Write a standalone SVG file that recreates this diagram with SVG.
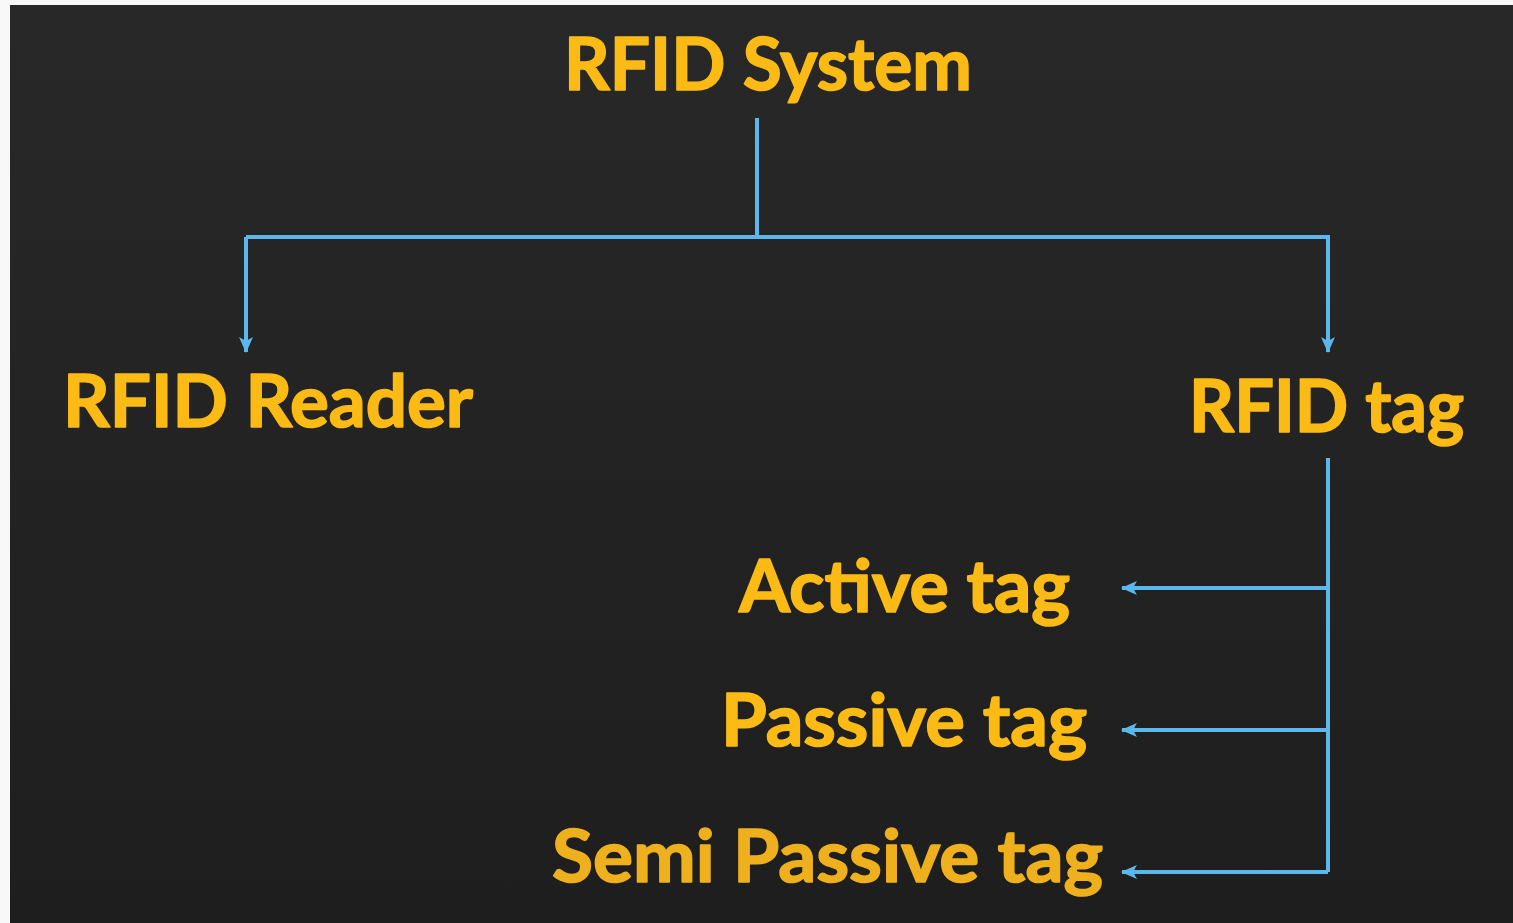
<svg xmlns="http://www.w3.org/2000/svg" width="1513" height="923" viewBox="0 0 1513 923">
<defs>
<linearGradient id="bg" x1="0" y1="0" x2="0" y2="1">
<stop offset="0" stop-color="#282828"/>
<stop offset="1" stop-color="#1e1e1e"/>
</linearGradient>
<marker id="arr" viewBox="0 0 16 16" refX="15" refY="8" markerWidth="16" markerHeight="16" markerUnits="userSpaceOnUse" orient="auto">
<path d="M0,1 L16,8 L0,15 L4,8 Z" fill="#5cb8ec"/>
</marker>
<style>
.lbl{font-family:Lato,"Open Sans","Liberation Sans",sans-serif;font-weight:700;font-size:72px;fill:#fbbb14;stroke:#fbbb14;stroke-width:1.6;stroke-linejoin:round;paint-order:stroke;}
.ln{fill:none;stroke:#5cb8ec;stroke-width:4;stroke-linejoin:miter;}
</style>
</defs>
<rect x="0" y="0" width="1513" height="923" fill="#f8f8f8"/>
<rect x="10" y="5" width="1503" height="918" fill="url(#bg)"/>
<g id="connectors">
<path class="ln" d="M757,118 V237"/>
<path class="ln" d="M246,237 H1328 V352" marker-end="url(#arr)"/>
<path class="ln" d="M246,237 V352" marker-end="url(#arr)"/>
<path class="ln" d="M1328,458 V872"/>
<path class="ln" d="M1328,588 H1122" marker-end="url(#arr)"/>
<path class="ln" d="M1328,730 H1122" marker-end="url(#arr)"/>
<path class="ln" d="M1328,872 H1122" marker-end="url(#arr)"/>
</g>
<g id="rfid-system"><text class="lbl" x="564" y="90" textLength="408" lengthAdjust="spacingAndGlyphs">RFID System</text></g>
<g id="rfid-reader"><text class="lbl" x="63" y="427" textLength="410" lengthAdjust="spacingAndGlyphs">RFID Reader</text></g>
<g id="rfid-tag"><text class="lbl" x="1189" y="432" textLength="275" lengthAdjust="spacingAndGlyphs">RFID tag</text></g>
<g id="active-tag"><text class="lbl" x="739" y="612" textLength="331" lengthAdjust="spacingAndGlyphs">Active tag</text></g>
<g id="passive-tag"><text class="lbl" x="721" y="746" textLength="366" lengthAdjust="spacingAndGlyphs">Passive tag</text></g>
<g id="semi-passive-tag"><text class="lbl" x="552" y="882" textLength="551" lengthAdjust="spacingAndGlyphs" style="fill:#eeb01c;stroke:#eeb01c">Semi Passive tag</text></g>
</svg>
